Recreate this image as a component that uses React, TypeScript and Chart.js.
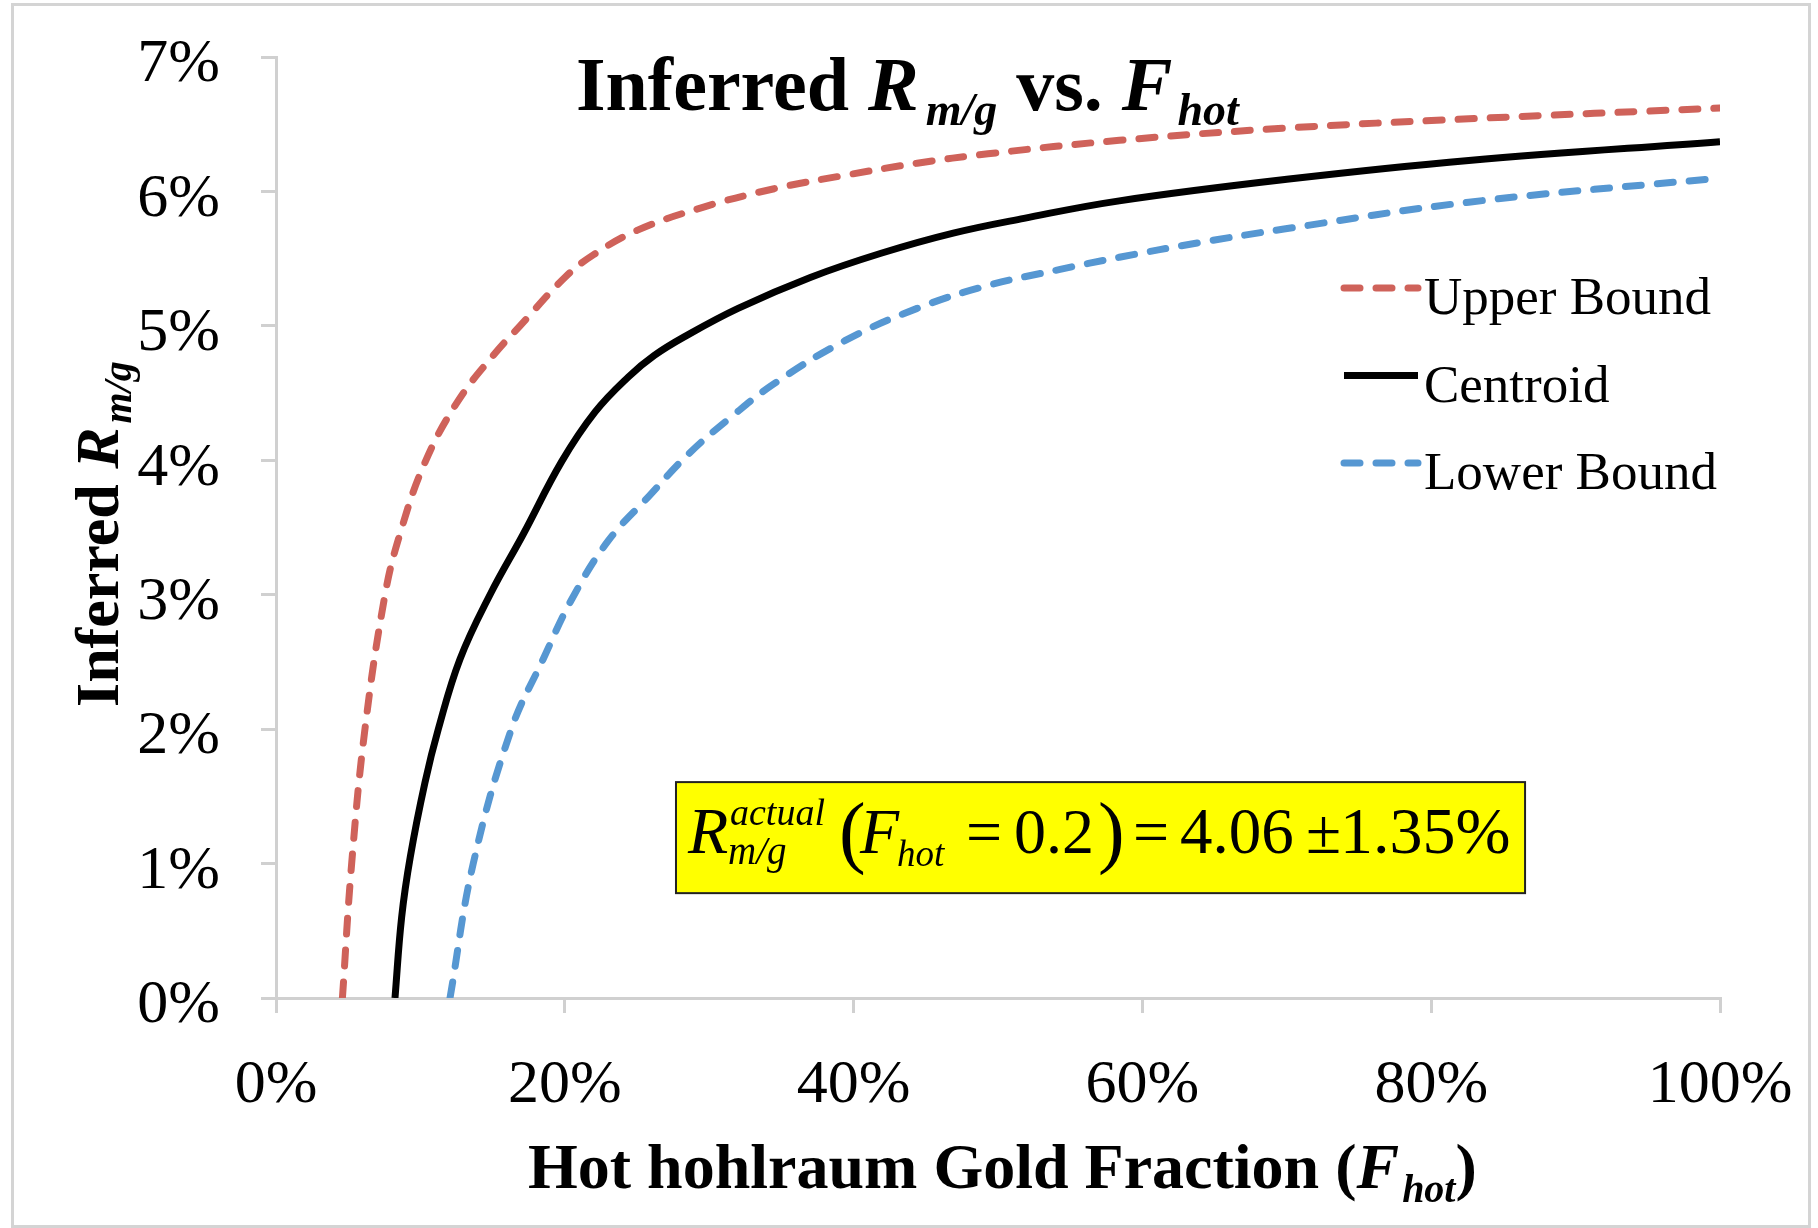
import React, { useEffect, useRef } from "react";
import { Chart, registerables } from "chart.js";

Chart.register(...registerables);

const SERIF = "'Liberation Serif', 'Times New Roman', Times, serif";

// ---- data (F_hot in %, inferred R_m/g in %) ----
const seriesLabels = ["Upper Bound", "Centroid", "Lower Bound"];
const seriesColors = ["#CF625A", "#000000", "#5697D2"];

const upperX = [4.6, 5.24, 6.16, 7.55, 8.58, 10.3, 12.6, 15.2, 16.9, 20.0, 22.0, 25.0, 29.5, 34.5, 39.4, 44.4, 49.3, 58.4, 69.8, 82.6, 100];
const upperY = [0, 1.0, 2.0, 3.0, 3.45, 3.98, 4.44, 4.8, 5.0, 5.36, 5.53, 5.71, 5.88, 6.02, 6.12, 6.21, 6.28, 6.38, 6.47, 6.54, 6.62];

const centroidX = [8.24, 8.7, 9.3, 10.31, 11.24, 12.74, 14.82, 17.12, 19.78, 22.1, 24.4, 26.2, 28.3, 32.0, 37.0, 41.9, 46.9, 51.8, 58.4, 70.0, 82.6, 100];
const centroidY = [0, 0.6, 1.05, 1.6, 2.0, 2.52, 3.0, 3.45, 3.99, 4.36, 4.62, 4.78, 4.92, 5.13, 5.36, 5.54, 5.69, 5.8, 5.93, 6.09, 6.23, 6.37];

const lowerX = [12.05, 13.66, 16.3, 18.5, 20.5, 23.0, 25.8, 28.6, 31.5, 34.5, 39.4, 44.4, 49.3, 54.3, 58.4, 64.0, 69.8, 82.6, 100];
const lowerY = [0, 1.0, 2.0, 2.52, 2.97, 3.4, 3.73, 4.05, 4.32, 4.57, 4.89, 5.13, 5.3, 5.42, 5.51, 5.62, 5.72, 5.92, 6.1];

const xTickStep = 20;
const yTickStep = 1;
const xRange = [0, 100];
const yRange = [0, 7];

// annotation box extent in data units
const boxX = [27.7, 86.5];
const boxY = [1.606, 0.78];

type Part = { t: string; size: number; b?: boolean; i?: boolean; dy?: number; gap?: number; dx?: number };

function fontOf(p: Part) {
  return `${p.i ? "italic " : ""}${p.b ? "bold " : ""}${p.size}px ${SERIF}`;
}

function drawRun(ctx: CanvasRenderingContext2D, parts: Part[], x: number, y: number) {
  let cx = x;
  for (const p of parts) {
    ctx.font = fontOf(p);
    ctx.fillText(p.t, cx, y + (p.dy || 0));
    cx += ctx.measureText(p.t).width + (p.gap || 0);
  }
}

function drawAbs(ctx: CanvasRenderingContext2D, parts: Part[], x: number, y: number) {
  for (const p of parts) {
    ctx.font = fontOf(p);
    ctx.fillText(p.t, x + (p.dx || 0), y + (p.dy || 0));
  }
}

const titleParts: Part[] = [
  { t: "Inferred ", size: 76, b: true },
  { t: "R", size: 76, b: true, i: true, gap: 7 },
  { t: "m/g", size: 46, b: true, i: true, dy: 15 },
  { t: " vs. ", size: 76, b: true },
  { t: "F", size: 76, b: true, i: true, gap: 5 },
  { t: "hot", size: 46, b: true, i: true, dy: 15 },
];

const xTitleParts: Part[] = [
  { t: "Hot hohlraum Gold Fraction (", size: 64, b: true },
  { t: "F", size: 64, b: true, i: true, gap: 3 },
  { t: "hot", size: 40, b: true, i: true, dy: 14 },
  { t: ")", size: 64, b: true },
];

const yTitleParts: Part[] = [
  { t: "Inferred ", size: 62, b: true },
  { t: "R", size: 62, b: true, i: true, gap: 4 },
  { t: "m/g", size: 40, b: true, i: true, dy: 13 },
];

const annotParts: Part[] = [
  { t: "R", size: 66, i: true, dx: 12 },
  { t: "actual", size: 38, i: true, dx: 54, dy: -28 },
  { t: "m/g", size: 39, i: true, dx: 52, dy: 11 },
  { t: "(", size: 80, dx: 163, dy: 5 },
  { t: "F", size: 64, i: true, dx: 184 },
  { t: "hot", size: 37, i: true, dx: 221, dy: 13 },
  { t: "=", size: 64, dx: 290 },
  { t: "0.2", size: 64, dx: 338 },
  { t: ")", size: 80, dx: 422, dy: 5 },
  { t: "=", size: 64, dx: 457 },
  { t: "4.06", size: 65, dx: 504 },
  { t: "\u00B1", size: 64, dx: 630 },
  { t: "1.35%", size: 66, dx: 664 },
];

const decorPlugin = {
  id: "decor",
  beforeDraw(chart: any) {
    const ctx: CanvasRenderingContext2D = chart.ctx;
    ctx.save();
    ctx.fillStyle = "#ffffff";
    ctx.fillRect(0, 0, chart.width, chart.height);
    ctx.strokeStyle = "#d4d4d4";
    ctx.lineWidth = 3;
    ctx.strokeRect(12.5, 4.5, 1797, 1222);
    ctx.restore();
  },
  afterDraw(chart: any) {
    const ctx: CanvasRenderingContext2D = chart.ctx;
    const xs = chart.scales.x;
    const ys = chart.scales.y;
    ctx.save();
    ctx.fillStyle = "#000";
    ctx.textBaseline = "alphabetic";
    ctx.textAlign = "left";

    // chart title
    drawRun(ctx, titleParts, 576, 110);
    // x axis title
    drawRun(ctx, xTitleParts, 528, 1188);
    // y axis title (rotated)
    ctx.save();
    ctx.translate(118, 707);
    ctx.rotate(-Math.PI / 2);
    drawRun(ctx, yTitleParts, 0, 0);
    ctx.restore();

    // legend
    const legendX0 = 1344;
    const legendX1 = 1418;
    const legendTextX = 1424;
    const legendTop = 288;
    const legendStep = 87.5;
    chart.data.datasets.forEach((ds: any, i: number) => {
      const ly = legendTop + i * legendStep;
      ctx.save();
      ctx.strokeStyle = ds.borderColor;
      ctx.lineWidth = ds.borderWidth;
      ctx.lineCap = ds.borderCapStyle || "butt";
      ctx.setLineDash(ds.borderDash || []);
      ctx.beginPath();
      ctx.moveTo(legendX0, ly);
      ctx.lineTo(legendX1, ly);
      ctx.stroke();
      ctx.restore();
      ctx.font = `53px ${SERIF}`;
      ctx.fillStyle = "#000";
      ctx.fillText(ds.label, legendTextX, ly + 26);
    });

    // annotation box
    const bx0 = xs.getPixelForValue(boxX[0]);
    const bx1 = xs.getPixelForValue(boxX[1]);
    const by0 = ys.getPixelForValue(boxY[0]);
    const by1 = ys.getPixelForValue(boxY[1]);
    ctx.fillStyle = "#FFFF00";
    ctx.fillRect(bx0, by0, bx1 - bx0, by1 - by0);
    ctx.strokeStyle = "#222";
    ctx.lineWidth = 2;
    ctx.strokeRect(bx0, by0, bx1 - bx0, by1 - by0);
    ctx.fillStyle = "#000";
    drawAbs(ctx, annotParts, bx0, by0 + 71);

    ctx.restore();
  },
};

function toPoints(xs: number[], ys: number[]) {
  return xs.map((x, i) => ({ x, y: ys[i] }));
}

export default function App() {
  const canvasRef = useRef<HTMLCanvasElement | null>(null);

  useEffect(() => {
    const canvas = canvasRef.current;
    if (!canvas) return;
    const axisGray = "#d0d0d0";
    const dash = [16, 16];
    const common = {
      borderWidth: 7,
      pointRadius: 0,
      tension: 0.4,
      fill: false,
    };
    const chart = new Chart(canvas, {
      type: "line",
      data: {
        datasets: [
          {
            ...common,
            label: seriesLabels[0],
            data: toPoints(upperX, upperY),
            borderColor: seriesColors[0],
            borderDash: dash,
            borderCapStyle: "round",
          },
          {
            ...common,
            label: seriesLabels[1],
            data: toPoints(centroidX, centroidY),
            borderColor: seriesColors[1],
          },
          {
            ...common,
            label: seriesLabels[2],
            data: toPoints(lowerX, lowerY),
            borderColor: seriesColors[2],
            borderDash: dash,
            borderCapStyle: "round",
          },
        ],
      } as any,
      options: {
        animation: false,
        responsive: false,
        maintainAspectRatio: false,
        devicePixelRatio: 1,
        layout: { padding: { left: 0, top: 57, right: 98, bottom: 0 } },
        plugins: {
          legend: { display: false },
          tooltip: { enabled: false },
          title: { display: false },
        },
        scales: {
          x: {
            type: "linear",
            position: "bottom",
            min: xRange[0],
            max: xRange[1],
            ticks: {
              stepSize: xTickStep,
              callback: (v: any) => `${v}%`,
              font: { family: SERIF, size: 62 },
              color: "#000",
              padding: 36,
              maxRotation: 0,
              autoSkip: false,
            },
            grid: {
              display: true,
              drawOnChartArea: false,
              drawTicks: true,
              tickLength: 15,
              color: axisGray,
              lineWidth: 3,
            },
            border: { display: true, color: axisGray, width: 3 },
            afterFit: (s: any) => {
              s.height = 230;
              s.paddingLeft = 0;
              s.paddingRight = 0;
            },
          },
          y: {
            type: "linear",
            min: yRange[0],
            max: yRange[1],
            ticks: {
              stepSize: yTickStep,
              callback: (v: any) => `${v}%`,
              font: { family: SERIF, size: 62 },
              color: "#000",
              padding: 41,
              labelOffset: 8,
            },
            grid: {
              display: true,
              drawOnChartArea: false,
              drawTicks: true,
              tickLength: 15,
              color: axisGray,
              lineWidth: 3,
            },
            border: { display: true, color: axisGray, width: 3 },
            afterFit: (s: any) => {
              s.width = 276;
              s.paddingTop = 0;
              s.paddingBottom = 0;
            },
          },
        },
      } as any,
      plugins: [decorPlugin],
    });
    return () => chart.destroy();
  }, []);

  return (
    <div style={{ position: "absolute", left: 0, top: 0, width: 1818, height: 1228, background: "#fff" }}>
      <canvas ref={canvasRef} width={1818} height={1228} style={{ width: 1818, height: 1228, display: "block" }} />
    </div>
  );
}
